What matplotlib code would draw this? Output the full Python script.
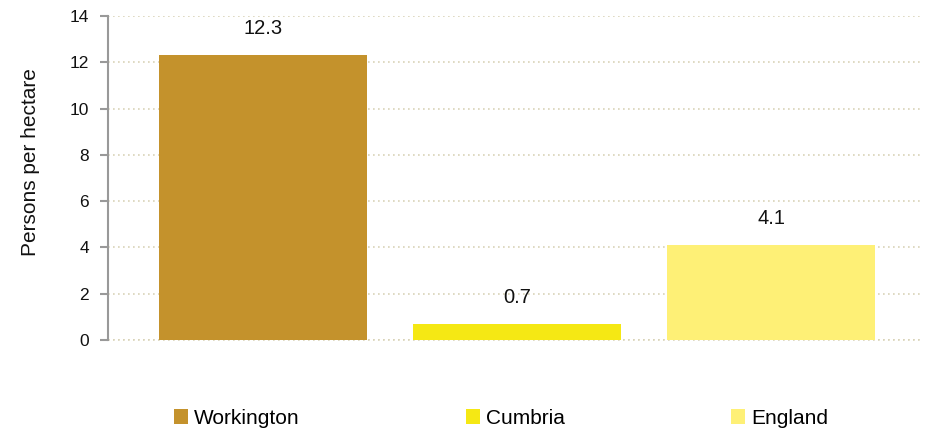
import matplotlib.pyplot as plt
from matplotlib.patches import Patch

# data
areas = ['Workington', 'Cumbria', 'England']
density = [12.3, 0.7, 4.1]
bar_colors = ['#C4922C', '#F5E814', '#FEF076']
yticks = [0, 2, 4, 6, 8, 10, 12, 14]

plt.rcParams['font.family'] = ['Liberation Sans', 'DejaVu Sans']

fig = plt.figure(figsize=(9.26, 4.30), dpi=100)
ax = fig.add_axes([108 / 926, 1 - 340 / 430, (922 - 108) / 926, (340 - 16) / 430])

x = list(range(len(areas)))
ax.bar(x, density, width=0.82, color=bar_colors, zorder=2)

# value labels above bars
for xi, v in zip(x, density):
    ax.annotate(f'{v:.1f}', (xi, v), xytext=(0, 19), textcoords='offset points',
                ha='center', va='center', fontsize=14.5, color='#111111')

ax.set_xlim(-0.61, 2.594)
ax.set_ylim(0, 14)
ax.set_yticks(yticks)
ax.set_xticks([])
ax.tick_params(axis='y', labelsize=12.5, colors='#999999', labelcolor='#111111',
               length=5.5, width=1.5, direction='out', pad=8)
ax.grid(axis='y', color='#D9D3B8', linestyle=(0, (1, 2)), linewidth=1.2, zorder=0)
ax.set_axisbelow(True)
ax.axhline(0, color='#D9D3B8', linestyle=(0, (1, 2)), linewidth=1.2, zorder=1, clip_on=False)

for side in ['top', 'right', 'bottom']:
    ax.spines[side].set_visible(False)
ax.spines['left'].set_color('#999999')
ax.spines['left'].set_linewidth(1.5)

ax.set_ylabel('Persons per hectare', fontsize=15, color='#111111')
ax.yaxis.set_label_coords(-0.084, 0.55)

handles = [Patch(facecolor=c, edgecolor='none', label=a) for a, c in zip(areas, bar_colors)]
fig.legend(handles=handles, loc='center', bbox_to_anchor=(501 / 926, 1 - 418 / 430),
           ncol=3, frameon=False, fontsize=15, handlelength=0.67, handleheight=0.72,
           handletextpad=0.29, columnspacing=8.0)

fig.savefig('out.png', dpi=100)
